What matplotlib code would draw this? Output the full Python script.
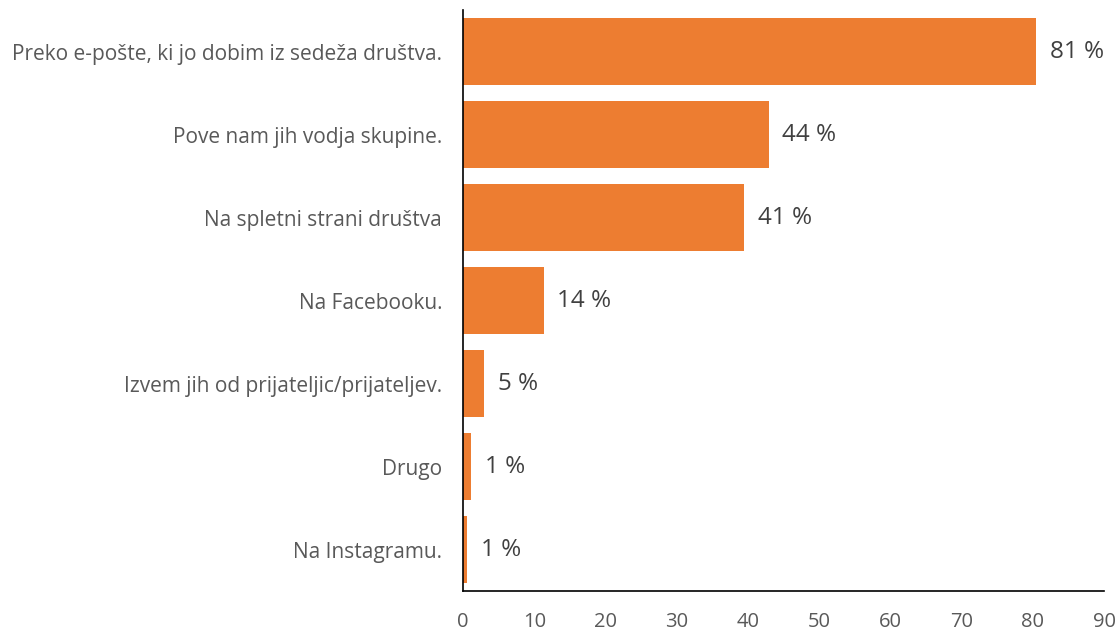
import matplotlib.pyplot as plt

categories = [
    "Preko e-pošte, ki jo dobim iz sedeža društva.",
    "Pove nam jih vodja skupine.",
    "Na spletni strani društva",
    "Na Facebooku.",
    "Izvem jih od prijateljic/prijateljev.",
    "Drugo",
    "Na Instagramu.",
]
# bar lengths as drawn, and the percentage labels printed next to them
values = [80.4, 42.9, 39.4, 11.3, 2.9, 1.1, 0.6]
labels = ["81 %", "44 %", "41 %", "14 %", "5 %", "1 %", "1 %"]
xticks = list(range(0, 91, 10))

plt.rcParams['font.family'] = ['Open Sans', 'DejaVu Sans']

fig = plt.figure(figsize=(11.19, 6.31), dpi=100)
ax = fig.add_axes([0.4138, 0.0634, 0.5728, 0.9206])

ypos = list(range(len(categories)))
ax.barh(ypos, values, height=0.81, color='#ED7D31')

for y, v, lab in zip(ypos, values, labels):
    ax.annotate(lab, (v, y), xytext=(10, 0), textcoords='offset points',
                va='center', ha='left', fontsize=17.5, color='#404040')

ax.set_yticks(ypos)
ax.set_yticklabels(categories, fontsize=15, color='#595959')
ax.set_xticks(xticks)
ax.set_xticklabels([str(t) for t in xticks], fontsize=14.5, color='#595959')
ax.set_xlim(0, 90)
ax.set_ylim(6.5, -0.5)

ax.tick_params(axis='both', length=0)
ax.tick_params(axis='y', pad=15)
ax.tick_params(axis='x', pad=15)
for s in ['top', 'right']:
    ax.spines[s].set_visible(False)
for s in ['left', 'bottom']:
    ax.spines[s].set_color('#000000')
    ax.spines[s].set_linewidth(1.2)

fig.savefig('out.png', dpi=100)
